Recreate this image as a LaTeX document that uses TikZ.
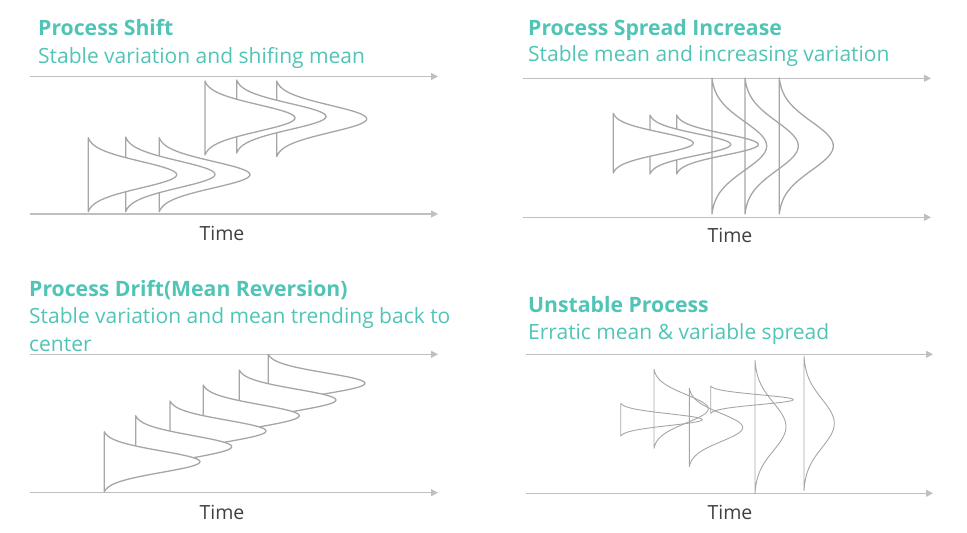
\documentclass[tikz,border=0pt]{standalone}
\usepackage{fontspec}
\setmainfont{Open Sans}
\usetikzlibrary{arrows.meta}
\definecolor{tealtxt}{RGB}{80,196,182}
\definecolor{curvegray}{RGB}{166,166,166}
\definecolor{axisgray}{RGB}{191,191,191}
\definecolor{timegray}{RGB}{64,64,64}
\tikzset{
  axisline/.style={draw=axisgray, line width=1.1pt, -{Triangle[length=7pt,width=7pt]}},
  bellstyle/.style={draw=curvegray, line width=1.3pt, line join=round},
  thinbell/.style={draw=curvegray, line width=0.9pt, line join=round},
  titletxt/.style={anchor=base west, inner sep=0pt, text=tealtxt, font=\fontsize{21.2}{24}\selectfont\bfseries},
  subtxt/.style={anchor=base west, inner sep=0pt, text=tealtxt, font=\fontsize{21}{28.4}\selectfont},
  timetxt/.style={anchor=base, inner sep=0pt, text=timegray, font=\fontsize{19.5}{22}\selectfont}
}
% #1 style, #2 x of line, #3 y top, #4 y bottom, #5 x of peak
\newcommand{\bellc}[5][bellstyle]{%
  \path[#1] plot[domain=-2.8:2.8, samples=61, variable=\t, smooth]
    ({#2+(#5-#2)*(exp(-\t*\t/2)-0.0198)/(1-0.0198)}, {(#3+#4)/2+\t*(#4-#3)/5.6}) -- cycle;%
}
\begin{document}
\begin{tikzpicture}[x=1pt, y=-1pt]
\useasboundingbox (0,0) rectangle (967,533);

% ---------- Panel 1: Process Shift ----------
\node[titletxt] (t1) at (38,35.5) {Process Shift};
\node[subtxt] (s1) at (38,63) {Stable variation and shifing mean};
\coordinate (p1ts) at (30,76.5); \coordinate (p1te) at (438,76.5);
\coordinate (p1bs) at (30,214); \coordinate (p1be) at (438,214);
\draw[axisline] (p1ts) -- (p1te);
\draw[axisline] (p1bs) -- (p1be);
\node[timetxt] (tm1) at (222,240) {Time};
\bellc[bellstyle, fill=white]{276.7}{81}{156.7}{366.7}
\bellc[bellstyle, fill=white]{236.7}{80}{153}{326}
\bellc[bellstyle, fill=white]{205}{81}{155}{295}
\bellc[bellstyle, fill=white]{159.3}{137.7}{211.7}{250}
\bellc[bellstyle, fill=white]{125.7}{137}{211.7}{215}
\bellc[bellstyle, fill=white]{88.3}{137.7}{211.7}{176.7}

% ---------- Panel 2: Process Spread Increase ----------
\node[titletxt] (t2) at (528,35) {Process Spread Increase};
\node[subtxt] (s2) at (528,61.7) {Stable mean and increasing variation};
\coordinate (p2ts) at (523,78.3); \coordinate (p2te) at (931,78.3);
\coordinate (p2bs) at (523,217.3); \coordinate (p2be) at (931,217.3);
\draw[axisline] (p2ts) -- (p2te);
\draw[axisline] (p2bs) -- (p2be);
\node[timetxt] (tm2) at (730,242.3) {Time};
\bellc[bellstyle, fill=white]{676.7}{115}{174}{758.3}
\bellc[bellstyle, fill=white]{650}{115}{174}{730.7}
\bellc[bellstyle, fill=white]{613.3}{113.3}{173}{693.3}
\bellc[bellstyle]{712}{78}{214}{766.7}
\bellc[bellstyle]{745}{78}{214}{798.3}
\bellc[bellstyle]{779.3}{78}{214}{833.3}

% ---------- Panel 3: Process Drift ----------
\node[titletxt] (t3) at (29,296.7) {Process Drift(Mean Reversion)};
\node[subtxt, align=left] (s3) at (29,351.7) {Stable variation and mean trending back to\\center};
\coordinate (p3ts) at (30,354.3); \coordinate (p3te) at (438,354.3);
\coordinate (p3bs) at (30,492.7); \coordinate (p3be) at (438,492.7);
\draw[axisline] (p3ts) -- (p3te);
\draw[axisline] (p3bs) -- (p3be);
\node[timetxt] (tm3) at (222,519.3) {Time};
\bellc[bellstyle, fill=white]{268.3}{354.3}{412.3}{365}
\bellc[bellstyle, fill=white]{239.3}{370}{430}{336}
\bellc[bellstyle, fill=white]{203.3}{385}{446.4}{299.3}
\bellc[bellstyle, fill=white]{170}{401}{461}{266}
\bellc[bellstyle, fill=white]{135.7}{415.7}{477.7}{231.7}
\bellc[bellstyle, fill=white]{104.3}{431.7}{491.7}{200}

% ---------- Panel 4: Unstable Process ----------
\node[titletxt] (t4) at (528,312.7) {Unstable Process};
\node[subtxt] (s4) at (528,339.3) {Erratic mean \& variable spread};
\coordinate (p4ts) at (526,354.3); \coordinate (p4te) at (933,354.3);
\coordinate (p4bs) at (526,493.3); \coordinate (p4be) at (933,493.3);
\draw[axisline] (p4ts) -- (p4te);
\draw[axisline] (p4bs) -- (p4be);
\node[timetxt] (tm4) at (730,519.3) {Time};
\bellc[thinbell]{654}{369.3}{448.3}{708.3}
\bellc[thinbell]{620.7}{403.3}{436}{702.3}
\bellc[thinbell]{689.3}{388.3}{466.7}{742.7}
\bellc[thinbell]{710.7}{386}{413.3}{793.3}
\bellc[thinbell]{755}{360}{493.3}{786}
\bellc[thinbell]{804}{356}{490.7}{834.3}
\end{tikzpicture}
\end{document}
